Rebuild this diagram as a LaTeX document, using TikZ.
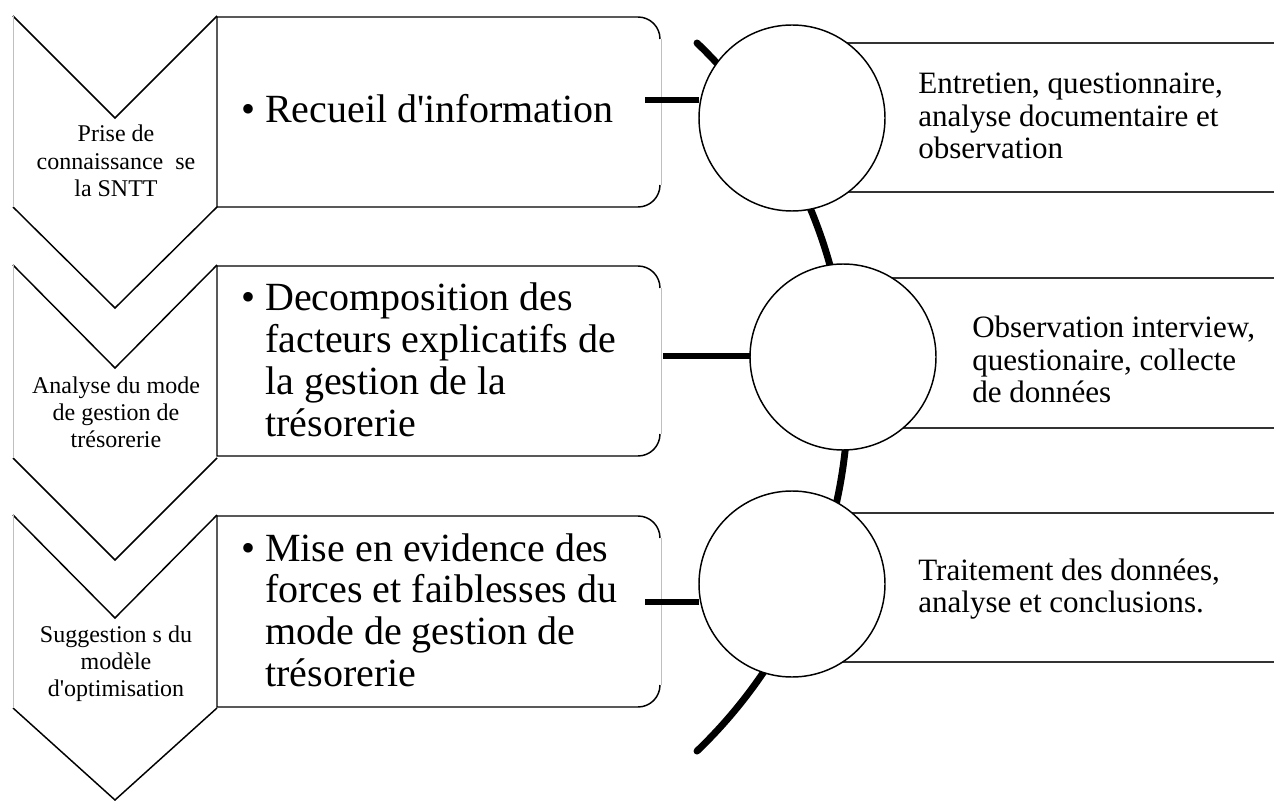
\documentclass[tikz,border=0pt]{standalone}
\usepackage{fontspec}
\setmainfont{Liberation Serif}[Ligatures=TeXOff]
\begin{document}
\begin{tikzpicture}[x=0.75pt,y=-0.75pt,
  edge/.style={line width=1.1pt, black, line join=miter},
  faint/.style={line width=0.7pt, black!25},
  bar/.style={line width=5.2pt, black},
  disc/.style={circle, draw=black, line width=1.1pt, fill=white, minimum size=139.5pt, inner sep=0pt},
  strip/.style={line width=1.4pt, black!80},
  chevtxt/.style={anchor=base, inner sep=0pt, font=\fontsize{18}{20.6}\selectfont},
  boxtxt/.style={anchor=base west, inner sep=0pt, font=\fontsize{30}{31.3}\selectfont},
  sidetxt/.style={anchor=base west, inner sep=0pt, font=\fontsize{23.3}{24.3}\selectfont}]

\useasboundingbox (0,0) rectangle (1274,805);
\fill[white] (0,0) rectangle (1274,805);

% right strips
\draw[strip] (1276,43) -- (792,43) -- (792,192) -- (1276,192);
\draw[strip] (1276,278) -- (843,278) -- (843,428) -- (1276,428);
\draw[strip] (1276,513) -- (792,513) -- (792,662) -- (1276,662);

% chevrons
\foreach \T/\N/\S/\P in {16/118/207/308, 265/368/458/560, 515/618/708/800}{
  \fill[white] (13,\T) -- (115,\N) -- (217,\T) -- (217,\S) -- (115,\P) -- (13,\S) -- cycle;
  \draw[edge] (13,\T) -- (115,\N) -- (217,\T);
  \draw[edge] (217,\S) -- (115,\P) -- (13,\S);
  \draw[faint] (13,\T) -- (13,\S);
}

% rounded boxes
\foreach \T/\B in {17/207, 266/456, 516/707}{
  \fill[white] (217,\T) -- (638,\T) arc[start angle=90,end angle=0,radius=16.5pt]
     -- (660,\B-22) arc[start angle=0,end angle=-90,radius=16.5pt] -- (217,\B) -- cycle;
  \draw[edge] (660,\T+22) arc[start angle=0,end angle=90,radius=16.5pt]
     -- (217,\T) -- (217,\B) -- (638,\B) arc[start angle=-90,end angle=0,radius=16.5pt];
  \draw[faint] (661,\T+22) -- (661,\B-22);
}

% connector bars
\coordinate (b1) at (645,100);
\coordinate (b2) at (663,356);
\coordinate (b3) at (645,602);
\coordinate (arcA) at (697,43);
\coordinate (k1) at (699,118);
\coordinate (k2) at (750,357);
\coordinate (k3) at (699,584);
\draw[bar] (b1) -- (b1 -| k1);
\draw[bar] (b2) -- (b2 -| k2);
\draw[bar] (b3) -- (b3 -| k3);
\draw[bar, line cap=round] (arcA) arc[start angle=46.2, end angle=-46.2, radius=367.9pt];

% circles
\node[disc] (c1) at (792,118) {};
\node[disc] (c2) at (843,357) {};
\node[disc] (c3) at (792,584) {};

% chevron texts
\node[chevtxt] (t1) at (116,142) {\parbox[t]{160pt}{\centering Prise de\\connaissance\ \ se\\la SNTT}};
\node[chevtxt] (t2) at (116,393) {\parbox[t]{160pt}{\centering Analyse du mode\\de gestion de\\trésorerie}};
\node[chevtxt] (t3) at (116,642) {\parbox[t]{160pt}{\centering Suggestion s du\\modèle\\d'optimisation}};

% box texts
\node[boxtxt] (p1) at (241,123) {•};
\node[boxtxt] (x1) at (265,123) {Recueil d'information};
\node[boxtxt] (p2) at (241,311) {•};
\node[boxtxt] (x2) at (265,311) {\parbox[t]{330pt}{\raggedright Decomposition des\\facteurs explicatifs de\\la gestion de la\\trésorerie}};
\node[boxtxt] (p3) at (241,561) {•};
\node[boxtxt] (x3) at (265,561) {\parbox[t]{330pt}{\raggedright Mise en evidence des\\forces et faiblesses du\\mode de gestion de\\trésorerie}};

% side texts
\node[sidetxt] (s1) at (918,94) {\parbox[t]{300pt}{\raggedright Entretien, questionnaire,\\analyse documentaire et\\observation}};
\node[sidetxt] (s2) at (972,338) {\parbox[t]{300pt}{\raggedright Observation interview,\\questionaire, collecte\\de données}};
\node[sidetxt] (s3) at (918,580) {\parbox[t]{300pt}{\raggedright Traitement des données,\\analyse et conclusions.}};
\end{tikzpicture}
\end{document}
